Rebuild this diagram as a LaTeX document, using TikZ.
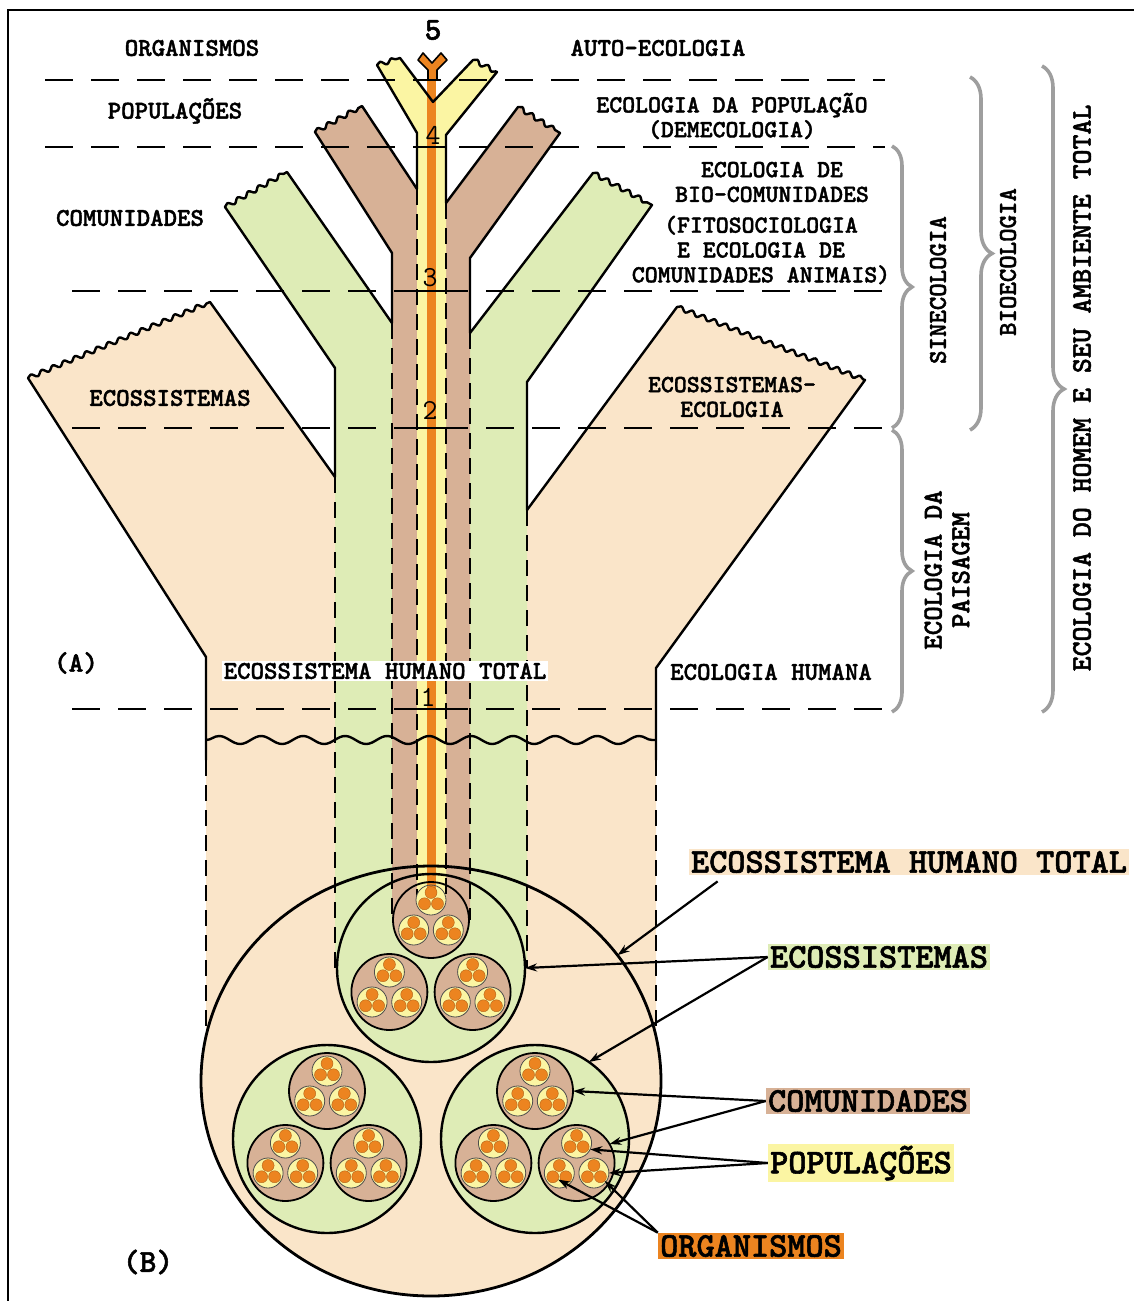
\documentclass[tikz,border=0pt]{standalone}
\usepackage{fontspec}
\newfontfamily\courfont[FakeBold=1.6]{lmmonolt10-bold.otf}
\usetikzlibrary{arrows.meta,calc,shapes.geometric,decorations.pathmorphing,decorations.pathreplacing}
\definecolor{humbeige}{RGB}{250,229,201}
\definecolor{ecogreen}{RGB}{222,236,182}
\definecolor{combrown}{RGB}{215,177,150}
\definecolor{popyellow}{RGB}{251,245,163}
\definecolor{orgorange}{RGB}{236,132,32}
\definecolor{bracegray}{RGB}{158,158,158}

\begin{document}
\begin{tikzpicture}[x=0.5pt, y=-0.5pt,
    lbl/.style={font=\courfont\fontsize{12.8}{11}\selectfont, align=center, inner sep=0pt},
    mlbl/.style={lbl, font=\courfont\fontsize{12.3}{12.4}\selectfont},
    vlbl/.style={lbl, rotate=90},
    lgd/.style={font=\courfont\fontsize{17.3}{17}\selectfont, inner sep=1pt},
    num/.style={font=\ttfamily\fontsize{14.5}{14}\selectfont, inner sep=0pt},
    arr/.style={-{Stealth[length=6pt,width=4pt]}, line width=1.1pt},
    edge/.style={line width=1.2pt, line join=round},
    hdash/.style={line width=1.2pt, dash pattern=on 14pt off 9pt},
    vdash/.style={line width=1.2pt, dash pattern=on 8pt off 4.5pt},
    wav/.style={decoration={snake, amplitude=1.1pt, segment length=6pt}},
    brc/.style={decorate, decoration={brace, amplitude=10pt}, line width=1.8pt, draw=bracegray},
    dot/.style={circle, inner sep=0pt, outer sep=0pt},
    ring/.style={dot, draw}
]
\useasboundingbox (0,0) rectangle (1134,1301);
\draw[line width=1pt] (8,1301) -- (8,10) -- (1134,10);

\fill[humbeige] (206,1081) -- (206,657) -- (28,378) decorate[wav]{-- (210,302)} -- (441,626)
    -- (677,307) decorate[wav]{-- (865,380)} -- (656,668) -- (656,1081) -- cycle;
\draw[vdash] (206,760) -- (206,1081) (656,760) -- (656,1081);
\node[ellipse, inner sep=0pt, outer sep=0pt, minimum width=230pt, minimum height=215pt, fill=humbeige] (hum) at (431,1081) {};

\fill[ecogreen] (335,968) -- (335,368) -- (225,207) decorate[wav]{-- (287,172)} -- (433,383)
    -- (593,173) decorate[wav]{-- (652,205)} -- (527,382) -- (527,968) -- cycle;
\draw[vdash] (335,477) -- (335,968) (527,510) -- (527,968);
\foreach \i/\ax/\ay in {1/0/-113, 2/-104/58, 3/104/58}
    \node[dot, minimum size=94pt, fill=ecogreen] (g\i) at ($(hum)+(\ax,\ay)$) {};

\fill[combrown] (392,920) -- (392,253) -- (315,132) decorate[wav]{-- (362,106)} -- (435,216)
    -- (518,107) decorate[wav]{-- (560,133)} -- (470,258) -- (470,920) -- cycle;
\draw[vdash] (392,323) -- (392,920) (470,333) -- (470,920);
\foreach \i in {1,2,3}
    \foreach \j/\bx/\by in {1/0/-48, 2/-41.6/24, 3/41.6/24}
        \node[dot, minimum size=38pt, fill=combrown] (g\i-\j) at ($(g\i)+(\bx,\by)$) {};

\fill[popyellow] (417,900) -- (417,133) -- (377,65) decorate[wav]{-- (400,58)} -- (433,102)
    -- (473,60) decorate[wav]{-- (497,72)} -- (446,135) -- (446,900) -- cycle;
\draw[vdash] (417,189) -- (417,900) (446,203) -- (446,900);
\foreach \i in {1,2,3}
    \foreach \j in {1,2,3}
        \foreach \k/\cx/\cy in {1/0/-20, 2/-17.3/10, 3/17.3/10}
            \node[dot, minimum size=15pt, fill=popyellow] (g\i-\j-\k) at ($(g\i-\j)+(\cx,\cy)$) {};

\fill[orgorange] (427,75) rectangle (436,892);
\filldraw[fill=orgorange, line width=0.8pt, line join=round] (428,80) -- (428,70) -- (418,60) -- (423,53)
    -- (432,63) -- (441,53) -- (447,60) -- (437,70) -- (437,80);
\foreach \i in {1,2,3}
    \foreach \j in {1,2,3}
        \foreach \k in {1,2,3}
            \foreach \m/\ox/\oy in {1/0/-7.5, 2/-6.5/3.75, 3/6.5/3.75}
                \node[dot, minimum size=6pt, fill=orgorange, draw=orgorange!75!black, line width=0.2pt]
                    (g\i-\j-\k-\m) at ($(g\i-\j-\k)+(\ox,\oy)$) {};

\draw[edge] (206,760) -- (206,657) -- (28,378) decorate[wav]{-- (210,302)} -- (335,477);
\draw[edge] (527,510) -- (677,307) decorate[wav]{-- (865,380)} -- (656,668) -- (656,760);
\draw[edge] (335,477) -- (335,368) -- (225,207) decorate[wav]{-- (287,172)} -- (392,323);
\draw[edge] (470,333) -- (593,173) decorate[wav]{-- (652,205)} -- (527,382) -- (527,510);
\draw[edge] (392,323) -- (392,253) -- (315,132) decorate[wav]{-- (362,106)} -- (417,189);
\draw[edge] (446,203) -- (518,107) decorate[wav]{-- (560,133)} -- (470,258) -- (470,333);
\draw[edge] (417,189) -- (417,133) -- (377,65) decorate[wav]{-- (400,58)} -- (433,102)
    -- (473,60) decorate[wav]{-- (497,72)} -- (446,135) -- (446,203);

\node[ellipse, draw, line width=1.4pt, minimum width=230pt, minimum height=215pt, inner sep=0pt] at (hum) {};
\foreach \i in {1,2,3}
    \node[ring, minimum size=94pt, line width=1.2pt] at (g\i) {};
\foreach \i in {1,2,3}
    \foreach \j in {1,2,3}
        \node[ring, minimum size=38pt, line width=0.9pt] at (g\i-\j) {};
\foreach \i in {1,2,3}
    \foreach \j in {1,2,3}
        \foreach \k in {1,2,3}
            \node[ring, minimum size=15pt, line width=0.4pt, draw=black!70] at (g\i-\j-\k) {};

\draw[edge, decorate, decoration={snake, amplitude=2pt, segment length=21pt}] (206,740) -- (656,740);

\draw[hdash] (45,80) -- (885,80);
\draw[hdash] (45,147) -- (885,147);
\draw[hdash] (72,291) -- (885,291);
\draw[hdash] (72,428) -- (885,428);
\draw[hdash] (72,709) -- (885,709);
\foreach \yy in {147,291,428,709}
    \draw[edge] (417,\yy) -- (446,\yy);

\node[num, font=\courfont\fontsize{16}{16}\selectfont] (n5) at (433,30) {5};
\node[num] (n4) at (433,135) {4};
\node[num] (n3) at (430,278) {3};
\node[num] (n2) at (430,410) {2};
\node[num] (n1) at (428,697) {1};

\node[lbl] (tOrg) at (192,48) {ORGANISMOS};
\node[lbl] (tPop) at (175,111) {POPULAÇÕES};
\node[lbl] (tCom) at (130,218) {COMUNIDADES};
\node[lbl] (tEco) at (170,398) {ECOSSISTEMAS};
\node[lbl, font=\courfont\fontsize{14}{14}\selectfont] (tA) at (76,663) {(A)};
\node[lbl, fill=white, inner sep=1pt] (tHum) at (385,671) {ECOSSISTEMA HUMANO TOTAL};
\node[lbl] (tHumana) at (771,672) {ECOLOGIA HUMANA};
\node[lbl] (tAuto) at (658,48) {AUTO-ECOLOGIA};
\node[mlbl] (tDem) at (732,116) {ECOLOGIA DA POPULAÇÃO\\(DEMECOLOGIA)};
\node[mlbl] (tBio) at (772,182) {ECOLOGIA DE\\BIO-COMUNIDADES};
\node[mlbl] (tFito) at (761,250) {(FITOSOCIOLOGIA\\E ECOLOGIA DE\\COMUNIDADES ANIMAIS)};
\node[mlbl] (tEcoEco) at (732,397) {ECOSSISTEMAS-\\ECOLOGIA};

\draw[brc] (892,146) -- (892,428);
\draw[brc] (892,430) -- (892,712);
\draw[brc, decoration={brace, amplitude=11pt}] (970,77) -- (970,430);
\draw[brc, decoration={brace, amplitude=11pt}] (1042,66) -- (1042,712);
\node[vlbl] (vSin) at (938,290) {SINECOLOGIA};
\node[vlbl, font=\courfont\fontsize{13.8}{13.8}\selectfont] (vPai) at (947,570) {ECOLOGIA DA\\PAISAGEM};
\node[vlbl] (vBio) at (1008,262) {BIOECOLOGIA};
\node[vlbl, font=\courfont\fontsize{14.2}{14}\selectfont] (vTot) at (1082,388) {ECOLOGIA DO HOMEM E SEU AMBIENTE TOTAL};

\node[lgd, fill=humbeige] (lHum) at (909,862) {ECOSSISTEMA HUMANO TOTAL};
\node[lgd, fill=ecogreen] (lEco) at (879,957) {ECOSSISTEMAS};
\node[lgd, fill=combrown] (lCom) at (868,1101) {COMUNIDADES};
\node[lgd, fill=popyellow] (lPop) at (861,1163) {POPULAÇÕES};
\node[lgd, fill=orgorange] (lOrg) at (751,1246) {ORGANISMOS};
\node[lbl, font=\courfont\fontsize{16}{16}\selectfont] (tB) at (148,1262) {(B)};

\draw[arr] ([xshift=14.5pt,yshift=-3pt]lHum.south west) -- (hum.34);
\draw[arr] (lEco.west) -- (g1.east);
\draw[arr] (lEco.west) -- (g3.55);
\draw[arr] (lCom.west) -- (g3-1.east);
\draw[arr] (lCom.west) -- (g3-3.30);
\draw[arr] (lPop.west) -- (g3-3-1.-25);
\draw[arr] (lPop.west) -- (g3-3-3.east);
\draw[arr] (lOrg.north west) -- (g3-3-2-2);
\draw[arr] (lOrg.north west) -- (g3-3-3-3);
\end{tikzpicture}
\end{document}
